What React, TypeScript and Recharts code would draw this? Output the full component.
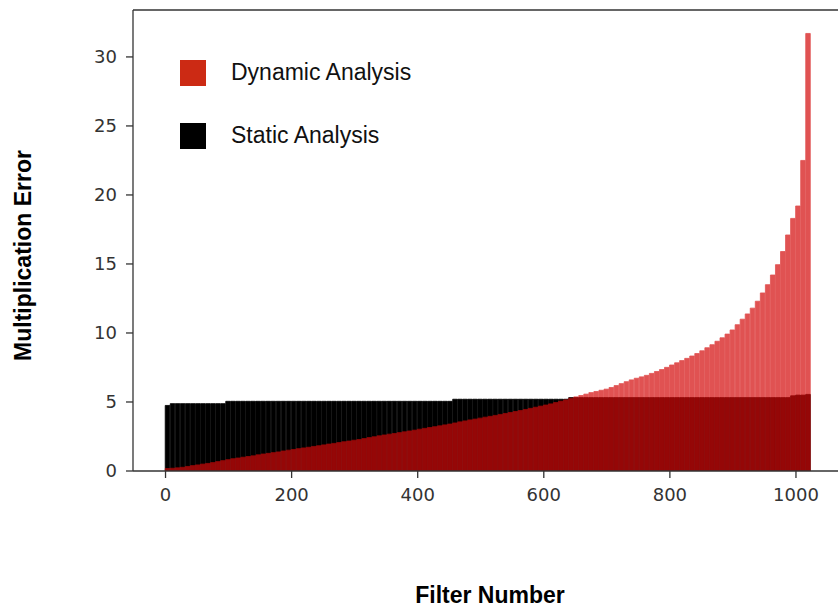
import { BarChart, Bar, XAxis, YAxis, ReferenceLine } from 'recharts';

// Filters are grouped in bins of 8 (start index of each bin)
const filterBins = [
  0, 8, 16, 24, 32, 40, 48, 56, 64, 72, 80, 88, 96, 104, 112, 120,
  128, 136, 144, 152, 160, 168, 176, 184, 192, 200, 208, 216, 224, 232, 240, 248,
  256, 264, 272, 280, 288, 296, 304, 312, 320, 328, 336, 344, 352, 360, 368, 376,
  384, 392, 400, 408, 416, 424, 432, 440, 448, 456, 464, 472, 480, 488, 496, 504,
  512, 520, 528, 536, 544, 552, 560, 568, 576, 584, 592, 600, 608, 616, 624, 632,
  640, 648, 656, 664, 672, 680, 688, 696, 704, 712, 720, 728, 736, 744, 752, 760,
  768, 776, 784, 792, 800, 808, 816, 824, 832, 840, 848, 856, 864, 872, 880, 888,
  896, 904, 912, 920, 928, 936, 944, 952, 960, 968, 976, 984, 992, 1000, 1008, 1016,
];

const dynamicError = [
  0.18, 0.2, 0.23, 0.27, 0.33, 0.39, 0.44, 0.5, 0.55, 0.61, 0.68, 0.75, 0.82, 0.89, 0.94, 1.0,
  1.05, 1.1, 1.17, 1.23, 1.28, 1.33, 1.38, 1.45, 1.51, 1.56, 1.62, 1.67, 1.72, 1.78, 1.83, 1.89,
  1.95, 2.0, 2.06, 2.12, 2.17, 2.23, 2.28, 2.35, 2.42, 2.48, 2.55, 2.61, 2.67, 2.72, 2.78, 2.84,
  2.9, 2.96, 3.03, 3.09, 3.15, 3.21, 3.27, 3.34, 3.4, 3.48, 3.56, 3.63, 3.7, 3.76, 3.83, 3.9,
  3.96, 4.03, 4.1, 4.17, 4.24, 4.31, 4.38, 4.46, 4.54, 4.62, 4.7, 4.78, 4.86, 4.96, 5.06, 5.15,
  5.27, 5.37, 5.47, 5.57, 5.68, 5.76, 5.85, 5.93, 6.05, 6.19, 6.33, 6.47, 6.6, 6.72, 6.82, 6.93,
  7.07, 7.21, 7.35, 7.51, 7.68, 7.84, 8.0, 8.16, 8.33, 8.51, 8.71, 8.93, 9.15, 9.4, 9.65, 9.92,
  10.22, 10.6, 11.0, 11.38, 11.8, 12.3, 12.9, 13.5, 14.2, 14.95, 15.9, 17.1, 18.3, 19.2, 22.5, 31.7,
];

const staticError = [
  4.75, 4.88, 4.88, 4.88, 4.88, 4.88, 4.88, 4.88, 4.88, 4.88, 4.88, 4.88, 5.05, 5.05, 5.05, 5.05,
  5.05, 5.05, 5.05, 5.05, 5.05, 5.05, 5.05, 5.05, 5.05, 5.05, 5.05, 5.05, 5.05, 5.05, 5.05, 5.05,
  5.05, 5.05, 5.05, 5.05, 5.05, 5.05, 5.05, 5.05, 5.05, 5.05, 5.05, 5.05, 5.05, 5.05, 5.05, 5.05,
  5.05, 5.05, 5.05, 5.05, 5.05, 5.05, 5.05, 5.05, 5.05, 5.2, 5.2, 5.2, 5.2, 5.2, 5.2, 5.2,
  5.2, 5.2, 5.2, 5.2, 5.2, 5.2, 5.2, 5.2, 5.2, 5.2, 5.2, 5.2, 5.2, 5.2, 5.2, 5.2,
  5.32, 5.32, 5.32, 5.32, 5.32, 5.32, 5.32, 5.32, 5.32, 5.32, 5.32, 5.32, 5.32, 5.32, 5.32, 5.32,
  5.32, 5.32, 5.32, 5.32, 5.32, 5.32, 5.32, 5.32, 5.32, 5.32, 5.32, 5.32, 5.32, 5.32, 5.32, 5.32,
  5.32, 5.32, 5.32, 5.32, 5.32, 5.32, 5.32, 5.32, 5.32, 5.32, 5.32, 5.32, 5.45, 5.5, 5.5, 5.55,
];

const xTicks = [0, 200, 400, 600, 800, 1000];
const yTicks = [0, 5, 10, 15, 20, 25, 30];

const BIN = 8;
const X_DOMAIN: [number, number] = [-51.6, 1074.6];
const Y_MAX = 33.4;
const BAR_PX = (710 / (X_DOMAIN[1] - X_DOMAIN[0])) * BIN;

const data = filterBins.map((f, i) => ({
  pos: f + (BIN - 1) / 2,
  dynamic: dynamicError[i],
  static: staticError[i],
}));

const tickStyle = { fontFamily: 'DejaVu Sans', fontSize: 18, fill: '#333' };
const axisColor = '#333';
const redBar = '#d40a0a';
const legendText = { position: 'absolute' as const, left: 231, fontFamily: 'Liberation Sans', fontSize: 23, lineHeight: '23px', color: '#111', whiteSpace: 'nowrap' as const };
const titleText = { position: 'absolute' as const, width: 300, textAlign: 'center' as const, fontFamily: 'Liberation Sans', fontWeight: 'bold' as const, fontSize: 23, lineHeight: '23px', color: '#000' };

export default function App() {
  return (
    <div style={{ position: 'fixed', left: 0, top: 0, width: 838, height: 612, overflow: 'hidden', background: '#fff' }}>
      {/* transparency on the whole series, so overlapping bar edges don't darken */}
      <style>{'.recharts-bar.dyn-bars { opacity: 0.7; }'}</style>
      <BarChart width={860} height={612} data={data} margin={{ top: 10, right: 17, bottom: 101, left: 73 }}>
        <XAxis
          xAxisId="a"
          dataKey="pos"
          type="number"
          domain={X_DOMAIN}
          allowDataOverflow
          ticks={xTicks}
          height={40}
          tick={tickStyle}
          tickSize={7}
          tickMargin={10}
          stroke={axisColor}
          strokeWidth={1.3}
        />
        <XAxis xAxisId="s" dataKey="pos" type="number" domain={X_DOMAIN} allowDataOverflow hide />
        <YAxis
          domain={[0, Y_MAX]}
          allowDataOverflow
          ticks={yTicks}
          width={60}
          tick={tickStyle}
          tickSize={7}
          tickMargin={9}
          stroke={axisColor}
          strokeWidth={1.3}
        />
        <Bar dataKey="static" xAxisId="s" fill="#000" stroke="#000" strokeWidth={0.8} barSize={BAR_PX} isAnimationActive={false} />
        <Bar dataKey="dynamic" xAxisId="a" className="dyn-bars" fill={redBar} stroke={redBar} strokeWidth={0.8} barSize={BAR_PX} isAnimationActive={false} />
        <ReferenceLine y={Y_MAX} xAxisId="a" stroke={axisColor} strokeWidth={1.3} />
      </BarChart>

      {/* Legend */}
      <div style={{ position: 'absolute', left: 180, top: 60, width: 26, height: 26, background: '#cc2a14' }} />
      <div style={{ position: 'absolute', left: 180, top: 123, width: 26, height: 26, background: '#000' }} />
      <div style={{ ...legendText, top: 61 }}>Dynamic Analysis</div>
      <div style={{ ...legendText, top: 124 }}>Static Analysis</div>

      {/* Axis titles */}
      <div style={{ ...titleText, left: 340, top: 584 }}>Filter Number</div>
      <div style={{ ...titleText, left: 23 - 150, top: 255 - 11.5, height: 23, transform: 'rotate(-90deg)' }}>
        Multiplication Error
      </div>
    </div>
  );
}
